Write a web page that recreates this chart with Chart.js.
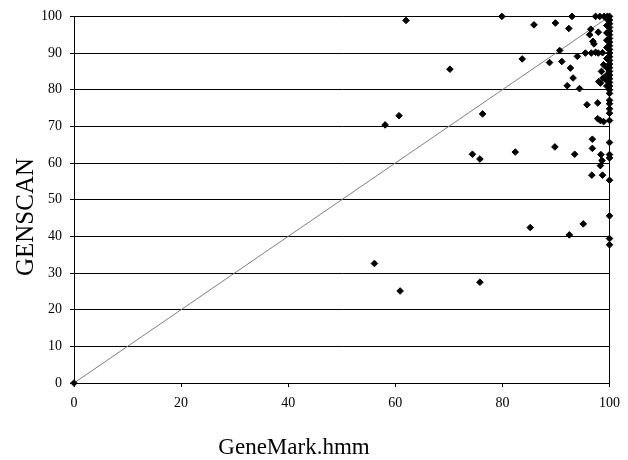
<!DOCTYPE html>
<html>
<head>
<meta charset="utf-8">
<title>GENSCAN vs GeneMark.hmm</title>
<script src="https://cdn.jsdelivr.net/npm/chart.js@4/dist/chart.umd.min.js"></script>
<style>
  html, body { margin: 0; padding: 0; background: #fff; }
  #wrap { width: 628px; height: 460px; }
</style>
</head>
<body>
<div id="wrap"><canvas id="scatter" width="628" height="460"></canvas></div>
<script>
// GeneMark.hmm score (x) and GENSCAN score (y) per gene
const genemark = [
  0, 62.0, 79.9, 83.7, 70.2, 76.3, 60.7, 58.1, 74.4, 75.8,
  82.4, 89.8, 93.5, 96.8, 96.8, 98.4, 98.6, 98.3, 100, 100,
  100, 96.7, 98.7, 100, 100, 95.1, 85.2, 92.5, 100, 100,
  56.1, 60.9, 75.8, 92.1, 94.4, 95.8, 97.8, 97.8, 98.3, 98.9,
  100, 100, 100, 100, 100, 93.0, 97.4, 98.2, 99.0, 99.6,
  100, 85.9, 89.9, 92.4, 96.5, 97.9, 96.3, 96.9, 97.1, 90.7,
  88.8, 91.1, 94.0, 95.5, 96.6, 97.4, 97.9, 92.7, 93.2, 98.5,
  98.8, 98.0, 98.3, 99.3, 98.9, 98.7,
  100, 100, 100, 100, 100, 100, 100, 100, 100, 100,
  100, 100, 100, 100, 100, 100, 100, 100, 100, 100, 100,
  99.5, 99.5, 99.5, 99.5, 99.5, 99.5, 99.5, 99.5, 99.5
];
const genscan = [
  0, 98.9, 100, 88.4, 85.6, 73.4, 72.9, 70.4, 62.4, 61.1,
  63.0, 64.4, 62.4, 66.5, 64.0, 62.3, 60.7, 59.3, 65.6, 62.3,
  61.4, 56.7, 56.7, 55.3, 45.6, 43.4, 42.4, 40.4, 39.4, 37.7,
  32.6, 25.1, 27.5, 81.1, 80.3, 75.9, 76.4, 72.1, 71.6, 71.3,
  77.1, 76.2, 73.6, 71.6, 74.8, 100, 100, 100, 100, 100,
  100, 97.7, 98.2, 96.7, 96.5, 95.7, 95.0, 93.2, 92.5, 90.7,
  87.4, 87.7, 89.1, 90.0, 90.0, 90.2, 90.0, 85.9, 83.2, 85.0,
  83.2, 82.2, 81.8, 82.7, 86.8, 90.1,
  99, 98, 97, 96, 95, 94, 93, 92, 91, 90,
  89, 88, 87, 86, 85, 84, 83, 82, 81, 80, 79,
  99.3, 97.5, 95.5, 93.5, 91.5, 88.5, 86, 84, 81
];
const diagonal = [0, 100];
const xTickValues = [0, 20, 40, 60, 80, 100];
const yTickValues = [0, 10, 20, 30, 40, 50, 60, 70, 80, 90, 100];
const xTitle = 'GeneMark.hmm';
const yTitle = 'GENSCAN';

const points = genemark.map((x, i) => ({ x, y: genscan[i] }));
const diagPoints = diagonal.map(v => ({ x: v, y: v }));

const serif = '"Liberation Serif", "Times New Roman", serif';

// axis titles drawn by hand so they sit where the original has them
const axisTitles = {
  id: 'axisTitles',
  afterDraw(chart) {
    const { ctx } = chart;
    ctx.save();
    ctx.fillStyle = '#000';
    ctx.textAlign = 'center';
    ctx.textBaseline = 'middle';
    ctx.font = '23px ' + serif;
    ctx.fillText(xTitle, 294, 448);
    ctx.translate(26, 217);
    ctx.rotate(-Math.PI / 2);
    ctx.font = '25px ' + serif;
    ctx.fillText(yTitle, 0, 0);
    ctx.restore();
  }
};

new Chart(document.getElementById('scatter'), {
  type: 'scatter',
  data: {
    datasets: [
      {
        label: 'genes',
        data: points,
        clip: false,
        pointStyle: 'rectRot',
        pointRadius: 3.3,
        pointBorderWidth: 1,
        backgroundColor: '#000',
        borderColor: '#000',
        pointHoverRadius: 3.3
      },
      {
        label: 'x = y',
        data: diagPoints,
        showLine: true,
        borderColor: '#7f7f7f',
        borderWidth: 1,
        pointRadius: 0,
        pointHoverRadius: 0
      }
    ]
  },
  options: {
    responsive: false,
    animation: false,
    layout: { padding: { top: 16, right: 17, left: 0, bottom: 0 } },
    plugins: {
      legend: { display: false },
      tooltip: { enabled: false }
    },
    scales: {
      x: {
        type: 'linear',
        min: 0,
        max: 100,
        afterFit: scale => { scale.height = 77; },
        afterBuildTicks: scale => { scale.ticks = xTickValues.map(v => ({ value: v })); },
        border: { display: true, color: '#000', width: 1 },
        grid: {
          color: c => (c.tick && (c.tick.value === 0 || c.tick.value === 100)) ? '#000' : 'rgba(0,0,0,0)',
          tickColor: '#000',
          tickLength: 4,
          lineWidth: 1
        },
        ticks: {
          color: '#000',
          padding: 8,
          maxRotation: 0,
          font: { family: serif, size: 14 }
        }
      },
      y: {
        type: 'linear',
        min: 0,
        max: 100,
        afterFit: scale => { scale.width = 74; },
        afterBuildTicks: scale => { scale.ticks = yTickValues.map(v => ({ value: v })); },
        border: { display: true, color: '#000', width: 1 },
        grid: {
          color: '#000',
          tickColor: '#000',
          tickLength: 4,
          lineWidth: 1
        },
        ticks: {
          color: '#000',
          padding: 8,
          font: { family: serif, size: 14 }
        }
      }
    }
  },
  plugins: [axisTitles]
});
</script>
</body>
</html>
